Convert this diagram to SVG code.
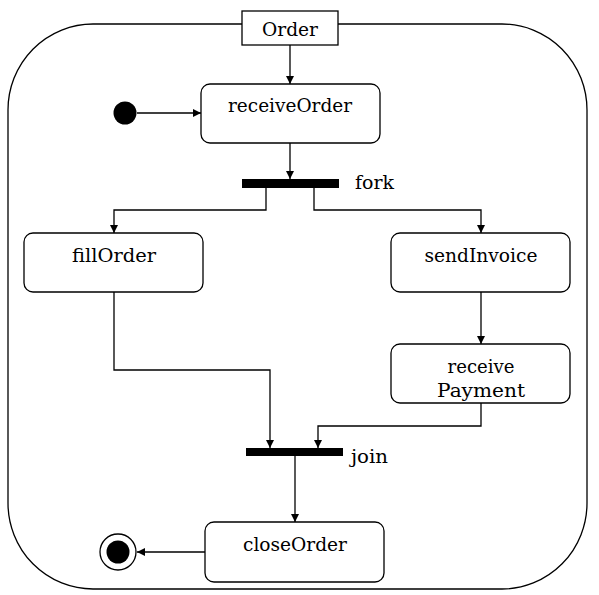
<svg xmlns="http://www.w3.org/2000/svg" width="599" height="595" viewBox="0 0 599 595">
<style>
.frame{fill:#fff;stroke:#000;stroke-width:1.3}
.box{fill:#fff;stroke:#000;stroke-width:1.3}
.bar{fill:#000}
.lbl{font-family:'DejaVu Serif',serif;font-size:19px;fill:#000;text-anchor:middle}
.side{font-family:'DejaVu Serif',serif;font-size:19px;fill:#000}
.edge{fill:none;stroke:#000;stroke-width:1.3;marker-end:url(#arr)}
</style>
<defs>
<marker id="arr" viewBox="0 0 10 10" refX="10" refY="5" markerWidth="8" markerHeight="8" markerUnits="userSpaceOnUse" orient="auto">
<path d="M0,0 L10,5 L0,10 z" fill="#000"/>
</marker>
</defs>
<rect class="frame" x="8" y="24" width="579" height="565" rx="85" ry="86"/>
<g id="connectors">
<path class="edge" d="M290,45 V84"/>
<path class="edge" d="M137,113 H201"/>
<path class="edge" d="M290,143 V179"/>
<path class="edge" d="M266,188 V210 H114 V233"/>
<path class="edge" d="M314,188 V210 H481 V233"/>
<path class="edge" d="M481,292 V344"/>
<path class="edge" d="M114,292 V370 H270 V448"/>
<path class="edge" d="M481,403 V426 H318 V448"/>
<path class="edge" d="M295,456 V522"/>
<path class="edge" d="M205,552 H137"/>
</g>
<g id="order">
<rect class="box" x="242" y="11" width="96" height="34"/>
<text class="lbl" x="290" y="36" textLength="56" lengthAdjust="spacingAndGlyphs">Order</text>
</g>
<g id="initial">
<circle cx="125" cy="113" r="11.5" fill="#000"/>
</g>
<g id="receiveOrder">
<rect class="box" x="201" y="84" width="179" height="59" rx="9"/>
<text class="lbl" x="290" y="112" textLength="124" lengthAdjust="spacingAndGlyphs">receiveOrder</text>
</g>
<g id="fork">
<rect class="bar" x="242" y="179" width="97" height="9"/>
<text class="side" x="355" y="189" textLength="39" lengthAdjust="spacingAndGlyphs">fork</text>
</g>
<g id="fillOrder">
<rect class="box" x="24" y="233" width="179" height="59" rx="9"/>
<text class="lbl" x="114" y="262" textLength="84" lengthAdjust="spacingAndGlyphs">fillOrder</text>
</g>
<g id="sendInvoice">
<rect class="box" x="391" y="233" width="179" height="59" rx="9"/>
<text class="lbl" x="481" y="262" textLength="113" lengthAdjust="spacingAndGlyphs">sendInvoice</text>
</g>
<g id="receivePayment">
<rect class="box" x="391" y="344" width="179" height="59" rx="9"/>
<text class="lbl" x="481" y="373" textLength="67" lengthAdjust="spacingAndGlyphs">receive</text>
<text class="lbl" x="481" y="397" textLength="88" lengthAdjust="spacingAndGlyphs">Payment</text>
</g>
<g id="join">
<rect class="bar" x="246" y="448" width="97" height="8"/>
<text class="side" x="351" y="463" textLength="37" lengthAdjust="spacingAndGlyphs">join</text>
</g>
<g id="closeOrder">
<rect class="box" x="205" y="522" width="179" height="60" rx="9"/>
<text class="lbl" x="295" y="551" textLength="104" lengthAdjust="spacingAndGlyphs">closeOrder</text>
</g>
<g id="final">
<circle cx="118" cy="552" r="18" fill="#fff" stroke="#000" stroke-width="1.3"/>
<circle cx="118" cy="552" r="11.5" fill="#000"/>
</g>
</svg>
